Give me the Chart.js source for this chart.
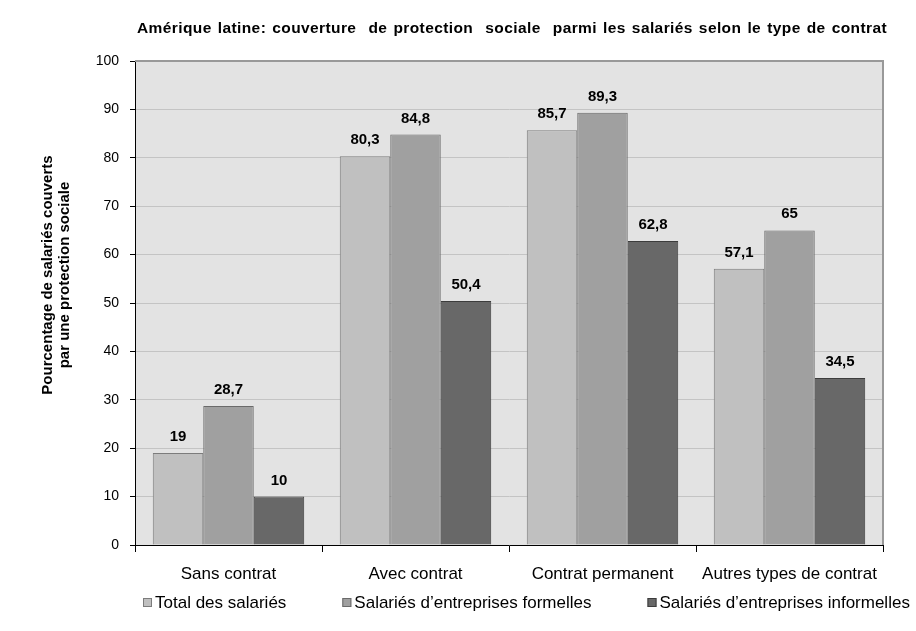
<!DOCTYPE html>
<html>
<head>
<meta charset="utf-8">
<script src="https://cdn.jsdelivr.net/npm/chart.js@4.4.1/dist/chart.umd.min.js"></script>
<style>
  html, body { margin: 0; padding: 0; background: #fff; }
  #wrap { width: 916px; height: 631px; }
</style>
</head>
<body>
<div id="wrap"><canvas id="grafico" width="916" height="631"></canvas></div>
<script>
// Données du graphique
const categories = ['Sans contrat', 'Avec contrat', 'Contrat permanent', 'Autres types de contrat'];
const totalSalaries = [19, 80.3, 85.7, 57.1];
const entreprisesFormelles = [28.7, 84.8, 89.3, 65];
const entreprisesInformelles = [10, 50.4, 62.8, 34.5];
const nomsSeries = ['Total des salariés', 'Salariés d\u2019entreprises formelles', 'Salariés d\u2019entreprises informelles'];
const titre = 'Amérique latine: couverture  de protection  sociale  parmi les salariés selon le type de contrat';
const titreAxeY = ['Pourcentage de salariés couverts', 'par une protection sociale'];

const police = "Arial, 'Liberation Sans', sans-serif";

// Fond gris de la zone de tracé + bordure haut/droite
const fondZone = {
    id: 'fondZone',
    beforeDraw(chart) {
        const { ctx, chartArea: a } = chart;
        ctx.save();
        ctx.fillStyle = '#e3e3e3';
        ctx.fillRect(a.left, a.top, a.right - a.left, a.bottom - a.top);
        ctx.restore();
    },
    afterDraw(chart) {
        const { ctx, chartArea: a } = chart;
        ctx.save();
        ctx.strokeStyle = '#999999';
        ctx.lineWidth = 2;
        ctx.beginPath();
        ctx.moveTo(a.left, a.top);
        ctx.lineTo(a.right, a.top);
        ctx.lineTo(a.right, a.bottom);
        ctx.stroke();
        ctx.restore();
    }
};

// Titre du graphique et titre de l'axe Y
const textes = {
    id: 'textes',
    afterDraw(chart) {
        const ctx = chart.ctx;
        ctx.save();
        ctx.fillStyle = '#000';
        ctx.textAlign = 'center';
        ctx.textBaseline = 'middle';
        ctx.font = 'bold 15.5px ' + police;
        ctx.letterSpacing = '0.4px';
        // espacement des mots pour occuper la largeur du titre original
        const nbEspaces = titre.split(' ').length - 1;
        const largeur = ctx.measureText(titre).width;
        ctx.wordSpacing = Math.max(0, (750 - largeur) / nbEspaces) + 'px';
        ctx.fillText(titre, 512, 29);
        ctx.wordSpacing = '0px';
        ctx.letterSpacing = '0px';

        ctx.font = 'bold 15px ' + police;
        ctx.translate(48, 275);
        ctx.rotate(-Math.PI / 2);
        titreAxeY.forEach((ligne, i) => ctx.fillText(ligne, 0, i * 16.5));
        ctx.restore();
    }
};

// Étiquettes de valeurs au-dessus des barres
const etiquettes = {
    id: 'etiquettes',
    afterDatasetsDraw(chart) {
        const ctx = chart.ctx;
        ctx.save();
        ctx.font = 'bold 15px ' + police;
        ctx.fillStyle = '#000';
        ctx.textAlign = 'center';
        ctx.textBaseline = 'alphabetic';
        chart.data.datasets.forEach((ds, i) => {
            chart.getDatasetMeta(i).data.forEach((bar, j) => {
                const txt = String(ds.data[j]).replace('.', ',');
                ctx.fillText(txt, bar.x, bar.y - 12);
            });
        });
        ctx.restore();
    }
};

// Légende en bas
const legende = {
    id: 'legende',
    afterDraw(chart) {
        const ctx = chart.ctx;
        ctx.save();
        ctx.font = '17px ' + police;
        ctx.textBaseline = 'middle';
        ctx.textAlign = 'left';
        let x = 143;
        const y = 603;
        chart.data.datasets.forEach(ds => {
            ctx.fillStyle = ds.backgroundColor;
            ctx.fillRect(x, y - 5, 9, 9);
            ctx.strokeStyle = ds.borderColor;
            ctx.lineWidth = 1;
            ctx.strokeRect(x + 0.5, y - 4.5, 8, 8);
            ctx.fillStyle = '#000';
            ctx.fillText(ds.label, x + 12, y);
            x += 12 + ctx.measureText(ds.label).width + 56;
        });
        ctx.restore();
    }
};

new Chart(document.getElementById('grafico').getContext('2d'), {
    type: 'bar',
    data: {
        labels: categories,
        datasets: [
            { label: nomsSeries[0], data: totalSalaries, backgroundColor: '#c0c0c0', borderColor: '#7c7c7c', borderWidth: 1 },
            { label: nomsSeries[1], data: entreprisesFormelles, backgroundColor: '#a0a0a0', borderColor: '#6a6a6a', borderWidth: 1 },
            { label: nomsSeries[2], data: entreprisesInformelles, backgroundColor: '#686868', borderColor: '#3c3c3c', borderWidth: 1 }
        ]
    },
    options: {
        responsive: false,
        animation: false,
        layout: { padding: { left: 0, right: 33, top: 61, bottom: 46 } },
        datasets: { bar: { categoryPercentage: 0.81, barPercentage: 1 } },
        plugins: {
            title: { display: false },
            legend: { display: false },
            tooltip: { enabled: false }
        },
        scales: {
            x: {
                grid: { display: true, drawOnChartArea: false, tickLength: 7, tickColor: '#000', offset: true },
                border: { color: '#000', width: 1 },
                ticks: { color: '#000', font: { family: police, size: 17 }, padding: 12 },
                afterFit(s) { s.height = 40; }
            },
            y: {
                min: 0,
                max: 100,
                ticks: { stepSize: 10, color: '#000', font: { family: police, size: 14 }, padding: 11 },
                grid: { color: '#c4c4c4', tickLength: 5, tickColor: '#000' },
                border: { color: '#000', width: 1 },
                afterFit(s) { s.width = 135; }
            }
        }
    },
    plugins: [fondZone, etiquettes, textes, legende]
});
</script>
</body>
</html>
